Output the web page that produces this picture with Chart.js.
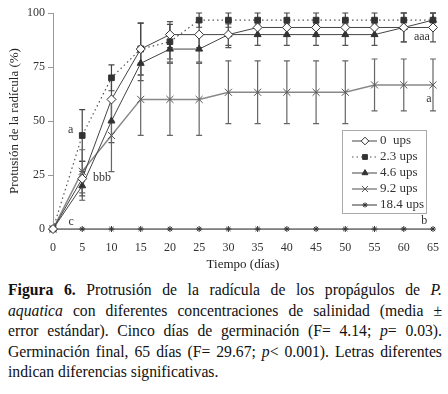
<!DOCTYPE html>
<html>
<head>
<meta charset="utf-8">
<script src="https://cdn.jsdelivr.net/npm/chart.js@4"></script>
<style>
  body { margin: 0; background: #fff; width: 448px; height: 394px; position: relative; overflow: hidden; }
  #wrap { position: absolute; left: 0; top: 0; width: 448px; height: 276px; }
  #caption { position: absolute; left: 8px; top: 280px; width: 434px; font-family: "Liberation Serif", serif; font-size: 15.7px; line-height: 20.5px; color: #111; }
  #caption div { text-align: justify; text-align-last: justify; white-space: nowrap; }
  #caption div.last { text-align-last: left; }
</style>
</head>
<body>
<div id="wrap"><canvas id="chart" width="448" height="276"></canvas></div>
<div id="caption">
  <div><b>Figura 6.</b> Protrusión de la radícula de los propágulos de <i>P.</i></div>
  <div><i>aquatica</i> con diferentes concentraciones de salinidad (media ±</div>
  <div>error estándar). Cinco días de germinación (F= 4.14; <i>p</i>= 0.03).</div>
  <div>Germinación final, 65 días (F= 29.67; <i>p</i>&lt; 0.001). Letras diferentes</div>
  <div class="last">indican diferencias significativas.</div>
</div>
<script>
var days = [0, 5, 10, 15, 20, 25, 30, 35, 40, 45, 50, 55, 60, 65];

var ups0 = [0, 23.3, 60, 83.3, 90, 90, 90, 93.3, 93.3, 93.3, 93.3, 93.3, 93.3, 93.3];
var ups23 = [0, 43.3, 70, 83.3, 86.7, 96.7, 96.7, 96.7, 96.7, 96.7, 96.7, 96.7, 96.7, 96.7];
var ups46 = [0, 20, 50, 76.7, 83.3, 83.3, 90, 90, 90, 90, 90, 90, 93.3, 96.7];
var ups92 = [0, 26.7, 43.3, 60, 60, 60, 63.3, 63.3, 63.3, 63.3, 63.3, 66.7, 66.7, 66.7];
var ups184 = [0, 0, 0, 0, 0, 0, 0, 0, 0, 0, 0, 0, 0, 0];

var err0 = [0, 8, 10, 12, 6, 6, 6, 4, 4, 4, 4, 4, 6.7, 6.7];
var err23 = [0, 12, 6, 12, 8, 3.3, 3.3, 3.3, 3.3, 3.3, 3.3, 3.3, 3.3, 3.3];
var err46 = [0, 6.7, 10, 8, 6, 6, 5, 5, 5, 5, 5, 5, 6.7, 3.3];
var err92 = [0, 10, 16.7, 16.7, 16.7, 16.7, 14.5, 14.5, 14.5, 14.5, 14.5, 12, 12, 12];

var labels = ["0  ups", "2.3 ups", "4.6 ups", "9.2 ups", "18.4 ups"];
var letters = [
  { text: "a", x: 3, y: 46 },
  { text: "bbb", x: 8.4, y: 23.6 },
  { text: "c", x: 3.1, y: 3.3 },
  { text: "aaa", x: 63.1, y: 88.8 },
  { text: "a", x: 64.3, y: 60.3 },
  { text: "b", x: 63.5, y: 4 }
];

function pts(vals) {
  return days.map(function(d, i) { return { x: d, y: vals[i] }; });
}

var serif = "'Liberation Serif', 'DejaVu Serif', serif";

// error bars, drawn under the markers
var errorBars = {
  id: 'errorBars',
  beforeDatasetsDraw: function(chart) {
    var ctx = chart.ctx, xs = chart.scales.x, ys = chart.scales.y;
    ctx.save();
    chart.data.datasets.forEach(function(ds) {
      if (!ds.err) return;
      ctx.strokeStyle = ds.errColor;
      ctx.lineWidth = 1.2;
      ds.data.forEach(function(p, i) {
        var e = ds.err[i];
        if (!e) return;
        var px = xs.getPixelForValue(p.x);
        var top = ys.getPixelForValue(p.y + e);
        var bot = ys.getPixelForValue(p.y - e);
        ctx.beginPath();
        ctx.moveTo(px, top); ctx.lineTo(px, bot);
        ctx.moveTo(px - 3, top); ctx.lineTo(px + 3, top);
        ctx.moveTo(px - 3, bot); ctx.lineTo(px + 3, bot);
        ctx.stroke();
      });
    });
    ctx.restore();
  }
};

// letters and boxed legend
var extras = {
  id: 'extras',
  afterDraw: function(chart) {
    var ctx = chart.ctx, xs = chart.scales.x, ys = chart.scales.y;
    ctx.save();
    ctx.fillStyle = '#333';
    ctx.font = '12px ' + serif;
    ctx.textAlign = 'center';
    ctx.textBaseline = 'middle';
    letters.forEach(function(l) {
      ctx.fillText(l.text, xs.getPixelForValue(l.x), ys.getPixelForValue(l.y));
    });

    var bx = 342, by = 130, bw = 84, bh = 83;
    ctx.fillStyle = '#fff';
    ctx.fillRect(bx, by, bw, bh);
    ctx.strokeStyle = '#aaa';
    ctx.lineWidth = 1;
    ctx.strokeRect(bx + 0.5, by + 0.5, bw, bh);
    ctx.font = '13px ' + serif;
    ctx.textAlign = 'left';
    chart.data.datasets.forEach(function(ds, i) {
      var yy = 141 + i * 16;
      ctx.save();
      ctx.strokeStyle = ds.borderColor;
      ctx.lineWidth = ds.borderWidth;
      ctx.setLineDash(ds.borderDash || []);
      ctx.beginPath();
      ctx.moveTo(352, yy); ctx.lineTo(377, yy);
      ctx.stroke();
      ctx.restore();
      ctx.fillStyle = ds.pointBackgroundColor;
      ctx.strokeStyle = ds.pointBorderColor;
      ctx.lineWidth = 1;
      Chart.helpers.drawPoint(ctx, {
        pointStyle: ds.pointStyle, radius: ds.pointRadius * 0.85, borderWidth: 1, rotation: 0
      }, 365, yy);
      ctx.fillStyle = '#333';
      ctx.fillText(ds.label, 380, yy);
    });
    ctx.restore();
  }
};

new Chart(document.getElementById('chart'), {
  type: 'line',
  data: {
    datasets: [
      {
        label: labels[0], data: pts(ups0), err: err0, errColor: '#555',
        borderColor: '#444', borderWidth: 1, pointStyle: 'rectRot', pointRadius: 4.5,
        pointBackgroundColor: '#fff', pointBorderColor: '#333', pointBorderWidth: 1
      },
      {
        label: labels[1], data: pts(ups23), err: err23, errColor: '#444',
        borderColor: '#555', borderWidth: 1.2, borderDash: [1.5, 3], pointStyle: 'rect', pointRadius: 4,
        pointBackgroundColor: '#333', pointBorderColor: '#333', pointBorderWidth: 1
      },
      {
        label: labels[2], data: pts(ups46), err: err46, errColor: '#555',
        borderColor: '#444', borderWidth: 1, pointStyle: 'triangle', pointRadius: 4,
        pointBackgroundColor: '#333', pointBorderColor: '#333', pointBorderWidth: 1
      },
      {
        label: labels[3], data: pts(ups92), err: err92, errColor: '#666',
        borderColor: '#888', borderWidth: 1.5, pointStyle: 'crossRot', pointRadius: 5,
        pointBackgroundColor: '#666', pointBorderColor: '#555', pointBorderWidth: 1
      },
      {
        label: labels[4], data: pts(ups184),
        borderColor: '#777', borderWidth: 1.5, pointStyle: 'star', pointRadius: 3,
        pointBackgroundColor: '#333', pointBorderColor: '#333', pointBorderWidth: 1
      }
    ]
  },
  options: {
    responsive: false,
    animation: false,
    clip: false,
    layout: { padding: { left: 0, right: 15, top: 13, bottom: 0 } },
    elements: { line: { tension: 0, fill: false } },
    plugins: { legend: { display: false }, tooltip: { enabled: false } },
    scales: {
      x: {
        type: 'linear', min: 0, max: 65,
        ticks: { stepSize: 5, color: '#333', font: { family: serif, size: 12 }, padding: 4, maxRotation: 0 },
        grid: { display: false },
        border: { color: '#999', width: 1 },
        title: { display: true, text: 'Tiempo (días)', color: '#222', font: { family: serif, size: 13 }, padding: { top: 2, bottom: 4 } },
        afterFit: function(s) { s.height = 47; }
      },
      y: {
        min: 0, max: 100,
        ticks: { stepSize: 25, color: '#333', font: { family: serif, size: 12 }, padding: 3 },
        grid: { drawOnChartArea: false, tickLength: 5, color: '#999' },
        border: { color: '#999', width: 1 },
        title: { display: true, text: 'Protusión de la radícula (%)', color: '#222', font: { family: serif, size: 13 }, padding: { top: 7, bottom: 0 } },
        afterFit: function(s) { s.width = 53; }
      }
    }
  },
  plugins: [errorBars, extras]
});
</script>
</body>
</html>
